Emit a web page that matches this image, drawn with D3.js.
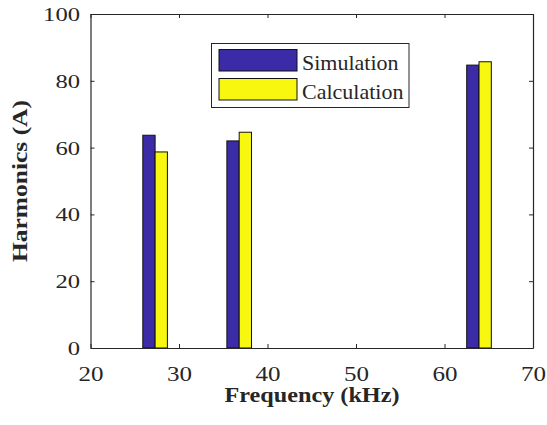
<!DOCTYPE html>
<html>
<head>
<meta charset="utf-8">
<script src="https://cdn.jsdelivr.net/npm/d3@7"></script>
<style>
  html, body { margin: 0; padding: 0; background: #fff; }
  svg { display: block; }
  svg text { font-family: "Liberation Serif", serif !important; fill: #262626; }
</style>
</head>
<body>
<script>
// Harmonic current amplitudes at each switching-frequency component
const frequencies = [27.3, 36.8, 63.9];          // kHz
const simulation  = [63.7, 62.0, 84.7];          // A
const calculation = [58.7, 64.6, 85.7];          // A
const seriesNames = ["Simulation", "Calculation"];
const xTicks = [20, 30, 40, 50, 60, 70];
const yTicks = [0, 20, 40, 60, 80, 100];

const W = 547, H = 425;
const plot = { left: 90.5, right: 533, top: 14, bottom: 348 };
const colors = ["#3b2ba6", "#f7f710"];
const barHalf = 1.39;   // kHz width of one bar

const svg = d3.select("body").append("svg")
  .attr("width", W).attr("height", H)
  .attr("font-family", "Liberation Serif");

const x = d3.scaleLinear().domain([20, 70]).range([plot.left, plot.right]);
const y = d3.scaleLinear().domain([0, 100]).range([plot.bottom, plot.top]);

// bars
const series = [simulation, calculation];
series.forEach((vals, s) => {
  svg.append("g").selectAll("rect")
    .data(vals.map((v, i) => ({ f: frequencies[i], v })))
    .join("rect")
    .attr("x", d => x(d.f + (s - 1) * barHalf))
    .attr("width", d => x(d.f + s * barHalf) - x(d.f + (s - 1) * barHalf))
    .attr("y", d => y(d.v))
    .attr("height", d => y(0) - y(d.v))
    .attr("fill", colors[s])
    .attr("stroke", "#111")
    .attr("stroke-width", 1);
});

// axes (inward ticks on all four sides, labels on bottom/left)
const tickLen = 4;
const xb = svg.append("g").attr("transform", `translate(0,${plot.bottom})`)
  .call(d3.axisBottom(x).tickValues(xTicks).tickSizeInner(-tickLen).tickSizeOuter(0).tickPadding(0).tickFormat(d3.format("d")));
const xt = svg.append("g").attr("transform", `translate(0,${plot.top})`)
  .call(d3.axisTop(x).tickValues(xTicks).tickSizeInner(-tickLen).tickSizeOuter(0).tickFormat(""));
const yl = svg.append("g").attr("transform", `translate(${plot.left},0)`)
  .call(d3.axisLeft(y).tickValues(yTicks).tickSizeInner(-tickLen).tickSizeOuter(0).tickFormat(d3.format("d")));
const yr = svg.append("g").attr("transform", `translate(${plot.right},0)`)
  .call(d3.axisRight(y).tickValues(yTicks).tickSizeInner(-tickLen).tickSizeOuter(0).tickFormat(""));

[xb, xt, yl, yr].forEach(g => {
  g.attr("font-family", "Liberation Serif");
  g.selectAll(".domain").attr("stroke", "#262626").attr("stroke-width", 1.2);
  g.selectAll(".tick line").attr("stroke", "#262626").attr("stroke-width", 1);
});

xb.selectAll(".tick text")
  .attr("y", 33).attr("dy", 0)
  .style("font-family", "'Liberation Serif', serif")
  .style("font-size", "20px")
  .attr("fill", "#262626")
  .attr("textLength", d => 12.5 * String(d).length)
  .attr("lengthAdjust", "spacingAndGlyphs");

yl.selectAll(".tick text")
  .attr("x", -10.5).attr("dy", "0.34em")
  .style("font-family", "'Liberation Serif', serif")
  .style("font-size", "19px")
  .attr("fill", "#262626")
  .attr("textLength", d => 12.3 * String(d).length)
  .attr("lengthAdjust", "spacingAndGlyphs");

// axis titles
svg.append("text")
  .attr("x", 312).attr("y", 402)
  .attr("text-anchor", "middle")
  .style("font-size", "21px").style("font-weight", "bold")
  .attr("textLength", 175).attr("lengthAdjust", "spacingAndGlyphs")
  .text("Frequency (kHz)");

svg.append("text")
  .attr("transform", "translate(27,181) rotate(-90)")
  .attr("text-anchor", "middle")
  .style("font-size", "21px").style("font-weight", "bold")
  .attr("textLength", 162).attr("lengthAdjust", "spacingAndGlyphs")
  .text("Harmonics (A)");

// legend
const lg = svg.append("g");
lg.append("rect")
  .attr("x", 211.5).attr("y", 43.5).attr("width", 197.5).attr("height", 64)
  .attr("fill", "#fff").attr("stroke", "#262626").attr("stroke-width", 1);
const rows = [{ sy: 49.5, ty: 70 }, { sy: 78.5, ty: 99 }];
seriesNames.forEach((name, i) => {
  lg.append("rect")
    .attr("x", 219).attr("y", rows[i].sy).attr("width", 78).attr("height", 21.5)
    .attr("fill", colors[i]).attr("stroke", "#111").attr("stroke-width", 1);
  lg.append("text")
    .attr("x", 302).attr("y", rows[i].ty)
    .style("font-size", "22px")
    .text(name);
});
</script>
</body>
</html>
